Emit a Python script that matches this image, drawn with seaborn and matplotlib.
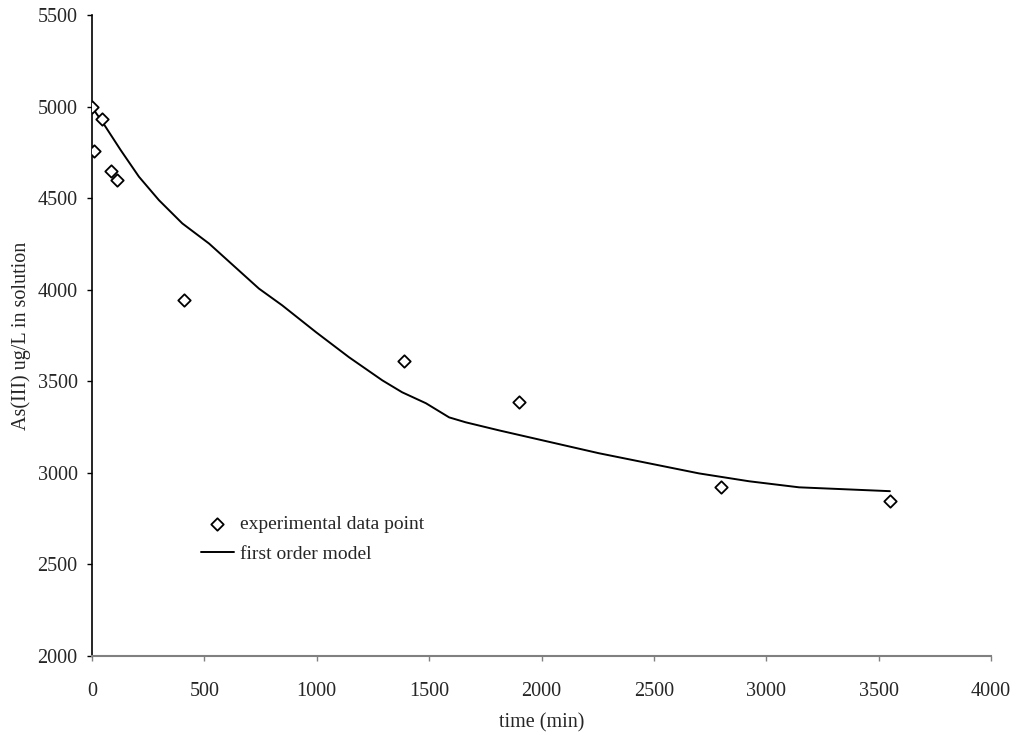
import matplotlib
matplotlib.use("Agg")
import matplotlib.pyplot as plt
import seaborn as sns
import pandas as pd

# experimental data
exp_time = [0, 10, 45, 85, 110, 410, 1390, 1900, 2800, 3550]
exp_conc = [5000, 4760, 4930, 4650, 4600, 3945, 3610, 3385, 2925, 2845]

# first order model curve
model_time = [0, 18, 46, 128, 209, 298, 402, 521, 743, 846, 997, 1144, 1292,
              1380, 1486, 1589, 1663, 1811, 2181, 2256, 2701, 2924, 3146, 3550]
model_conc = [5000, 4965, 4917, 4762, 4617, 4489, 4362, 4252, 4006, 3915, 3768,
              3631, 3505, 3440, 3380, 3303, 3276, 3232, 3128, 3107, 2997, 2954,
              2921, 2900]

x_ticks = [0, 500, 1000, 1500, 2000, 2500, 3000, 3500, 4000]
y_ticks = [2000, 2500, 3000, 3500, 4000, 4500, 5000, 5500]

sns.set_style("white")
plt.rcParams['font.family'] = ['Liberation Serif', 'DejaVu Serif']

fig = plt.figure(figsize=(10.15, 7.36), dpi=100)
ax = fig.add_axes([0.0906, 0.1087, 0.9764 - 0.0906, 0.9796 - 0.1087])

df_exp = pd.DataFrame({"t": exp_time, "c": exp_conc})
df_mod = pd.DataFrame({"t": model_time, "c": model_conc})

sns.lineplot(data=df_mod, x="t", y="c", ax=ax, color="black", linewidth=1.4,
             sort=False, estimator=None, label="first order model", zorder=2)
sns.scatterplot(data=df_exp, x="t", y="c", ax=ax, marker="D", s=40,
                facecolor="white", edgecolor="black", linewidth=1.3,
                label="experimental data point", zorder=3)

ax.set_xlim(0, 4000)
ax.set_ylim(2000, 5500)
ax.set_xticks(x_ticks)
ax.set_yticks(y_ticks)
ax.tick_params(axis='both', labelsize=14.5, direction='out', length=3.8, width=1)
ax.tick_params(axis='x', color='#808080', pad=15)
ax.tick_params(axis='y', color='black', pad=6.5)
ax.tick_params(left=True, bottom=True)

for s in ['top', 'right']:
    ax.spines[s].set_visible(False)
ax.spines['left'].set_color('black')
ax.spines['left'].set_linewidth(1.2)
ax.spines['bottom'].set_color('#808080')
ax.spines['bottom'].set_linewidth(1.5)

ax.set_xlabel("time (min)", fontsize=14.5, labelpad=9)
ax.set_ylabel("As(III) ug/L in solution", fontsize=14.5, labelpad=5)

handles, labels = ax.get_legend_handles_labels()
order = [labels.index("experimental data point"), labels.index("first order model")]
ax.legend([handles[i] for i in order], [labels[i] for i in order],
          loc="upper left", bbox_to_anchor=(0.106, 0.24), frameon=False,
          fontsize=14, handlelength=1.7, handletextpad=0.3, labelspacing=0.6,
          borderaxespad=0.3)

fig.savefig("out.png", dpi=100)
